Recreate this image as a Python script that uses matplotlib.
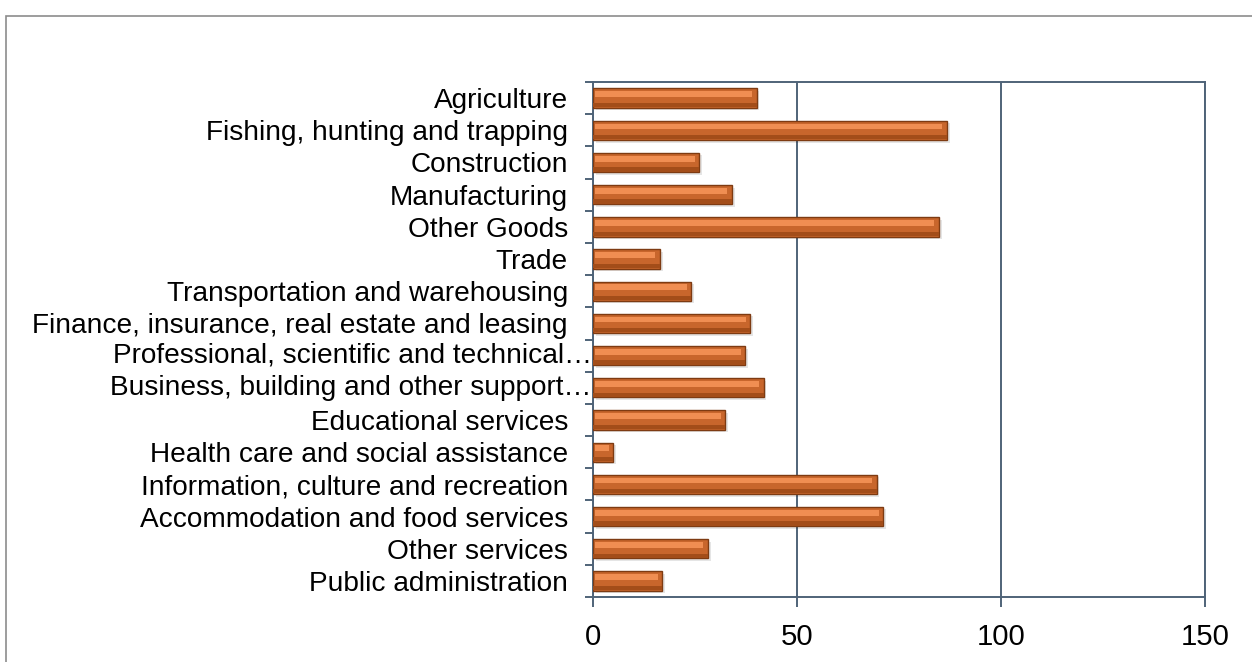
import matplotlib
matplotlib.use("Agg")
import matplotlib.pyplot as plt
from matplotlib.patches import Rectangle
import numpy as np

plt.rcParams["font.family"] = ["Liberation Sans", "DejaVu Sans"]

# data
industries = [
    "Agriculture",
    "Fishing, hunting and trapping",
    "Construction",
    "Manufacturing",
    "Other Goods",
    "Trade",
    "Transportation and warehousing",
    "Finance, insurance, real estate and leasing",
    "Professional, scientific and technical\u2026",
    "Business, building and other support\u2026",
    "Educational services",
    "Health care and social assistance",
    "Information, culture and recreation",
    "Accommodation and food services",
    "Other services",
    "Public administration",
]
values = [40.1, 86.7, 26.1, 34.0, 84.8, 16.4, 24.1, 38.5,
          37.3, 41.8, 32.4, 5.0, 69.5, 71.2, 28.1, 17.0]
x_ticks = [0, 50, 100, 150]

AXIS_COL = "#4F6378"
FS = 20.2

fig = plt.figure(figsize=(12.52, 6.62), dpi=100)
ax = fig.add_axes([593 / 1252, 1 - 597 / 662, 612 / 1252, 515 / 662])

y = np.arange(len(industries))
h = 0.6

# soft shadow, base bar, dark lower band, light highlight
ax.barh(y + 0.08, values, height=h, left=0.7, color="#000000", alpha=0.10, zorder=2)
ax.barh(y, values, height=h, color="#C8662C", edgecolor="#7E3B12", linewidth=1.0, zorder=3)
ax.barh(y + h * 0.36, values, height=h * 0.22, color="#A34D19", linewidth=0, zorder=3.5)
ax.barh(y - h * 0.2, [v - 1.5 for v in values], height=h * 0.3, left=0.4,
        color="#F08E52", linewidth=0, zorder=4)

ax.set_xlim(0, 150)
ax.set_ylim(len(industries) - 0.5, -0.5)
ax.set_xticks(x_ticks)
ax.set_xticklabels([str(t) for t in x_ticks], fontsize=FS + 1)
ax.xaxis.grid(True, color=AXIS_COL, linewidth=1.4, zorder=1)
ax.set_axisbelow(True)

# category labels; truncated ones sit right against the axis
ax.set_yticks(y)
ax.set_yticklabels([s if not s.endswith("\u2026") else "" for s in industries], fontsize=FS)
for i, s in enumerate(industries):
    if s.endswith("\u2026"):
        ax.annotate(s, xy=(0, i), xycoords=("axes fraction", "data"), xytext=(-1, 0),
                    textcoords="offset points", ha="right", va="center", fontsize=FS)
ax.tick_params(axis="y", which="major", length=0, pad=18)
ax.set_yticks(np.arange(-0.5, len(industries), 1.0), minor=True)
ax.tick_params(axis="y", which="minor", length=6, width=1.4, color=AXIS_COL, direction="out")
ax.tick_params(axis="x", which="major", length=7, width=1.4, color=AXIS_COL, direction="out", pad=12)

for sp in ax.spines.values():
    sp.set_color(AXIS_COL)
    sp.set_linewidth(1.4)

# outer chart frame
fig.patches.append(Rectangle((6 / 1252, -0.1), 1.2, 1 - 16 / 662 + 0.1,
                             transform=fig.transFigure, fill=False,
                             edgecolor="#8C8C8C", linewidth=1.2))

fig.savefig("out.png", dpi=100)
